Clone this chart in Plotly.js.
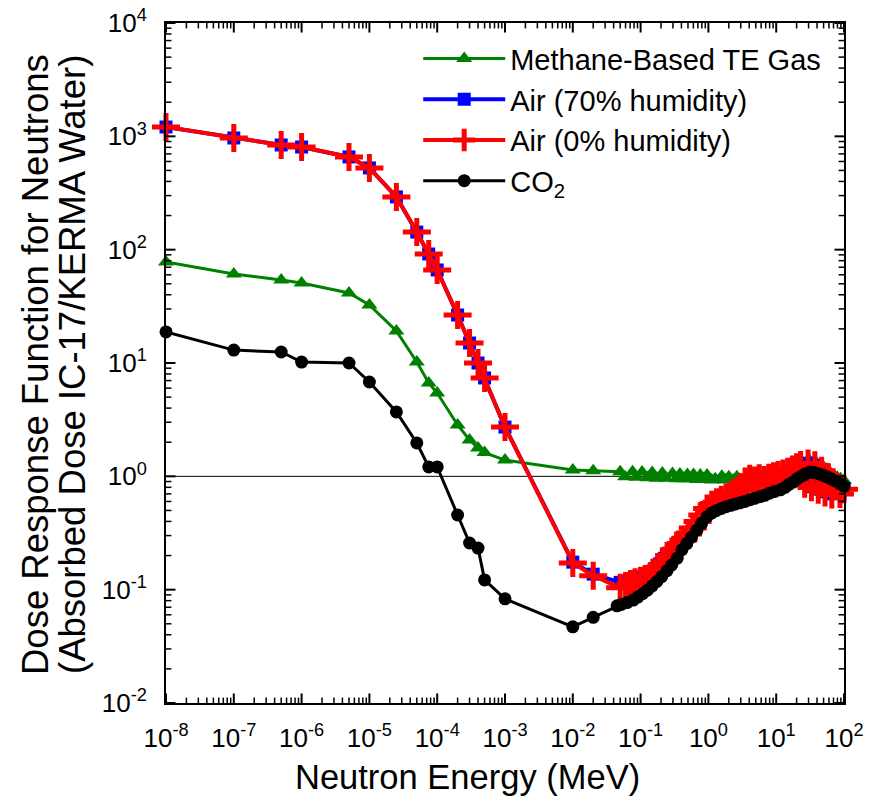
<!DOCTYPE html>
<html>
<head>
<meta charset="utf-8">
<script src="https://cdn.plot.ly/plotly-3.0.1.min.js"></script>
<style>html,body{margin:0;padding:0;background:#fff;}#chart{width:871px;height:808px;}</style>
</head>
<body>
<div id="chart"></div>
<script>
// ---- Data (neutron energy in MeV, dose response ratio) ----
const energyMethane = [1e-8, 1e-7, 5e-7, 1e-6, 5e-6, 1e-5, 2.5e-5, 5e-5, 7.5e-5, 1e-4, 2e-4, 3e-4, 4e-4, 5e-4, 1e-3, 1e-2, 2e-2,
  0.05, 0.059, 0.076, 0.087, 0.105, 0.126, 0.148, 0.174, 0.209, 0.24, 0.295, 0.339, 0.38, 0.437, 0.49, 0.537, 0.603, 0.676, 0.759, 0.851, 0.955,
  1.12, 1.26, 1.58, 1.78, 2.0, 2.34, 2.63, 3.0, 3.72, 4.2, 4.57, 5.0, 5.62, 6.3, 7.08, 8.0, 8.9, 10, 11.2, 12.6, 14.1, 15.8, 17.8, 20, 22.4, 25.1,
  28.2, 31.6, 35.5, 39.8, 44.7, 50.1, 56.2, 63.1, 70.8, 79.4, 89.1, 100];
const doseMethane = [77.9, 61.0, 54.0, 50.8, 41.5, 32.5, 19.2, 10.2, 6.66, 5.43, 2.84, 2.09, 1.78, 1.62, 1.39, 1.14, 1.12,
  1.10, 0.99, 1.10, 0.98, 1.09, 0.97, 1.08, 0.96, 1.07, 0.96, 1.06, 0.95, 1.05, 0.95, 1.04, 0.95, 1.04, 0.94, 1.03, 0.94, 1.03,
  0.93, 0.95, 1.00, 0.93, 0.99, 0.93, 0.99, 0.94, 1.01, 0.95, 1.02, 0.97, 1.03, 0.98, 1.05, 1.00, 1.06, 1.04, 1.08, 1.07, 1.10, 1.12, 1.17, 1.22, 1.28, 1.32,
  1.35, 1.36, 1.34, 1.30, 1.25, 1.20, 1.13, 1.07, 1.02, 0.98, 0.95, 0.92];

const energyAir70 = [1e-8, 1e-7, 5e-7, 1e-6, 5e-6, 1e-5, 2.5e-5, 5e-5, 7.5e-5, 1e-4, 2e-4, 3e-4, 4e-4, 5e-4, 1e-3, 1e-2, 2e-2,
  0.05, 0.06, 0.071, 0.083, 0.1, 0.117, 0.138, 0.162, 0.191, 0.224, 0.263, 0.309, 0.363, 0.427, 0.501, 0.589, 0.692, 0.813, 0.955,
  1.12, 1.32, 1.55, 1.82, 2.14, 2.51, 2.95, 3.47, 4.07, 4.79, 5.62, 6.61, 7.76, 9.12, 10.7, 12.6, 14.8, 17.4, 20, 22.9, 26.3, 29.5,
  33.1, 37.2, 41.7, 46.8, 52.5, 58.9, 66.1, 75.9, 87.1, 100];
const doseAir70 = [1208, 967, 839, 805, 658, 526, 292, 143, 91.6, 66.2, 26.5, 15.0, 10.0, 7.38, 2.72, 0.175, 0.137,
  0.116, 0.119, 0.122, 0.125, 0.129, 0.134, 0.141, 0.153, 0.169, 0.189, 0.21, 0.235, 0.26, 0.285, 0.32, 0.36, 0.41, 0.46, 0.52,
  0.56, 0.59, 0.62, 0.65, 0.68, 0.72, 0.80, 0.90, 0.95, 0.92, 0.96, 0.93, 0.97, 1.00, 1.03, 1.06, 1.10, 1.15, 1.20, 1.26, 0.87, 1.30,
  0.81, 1.25, 0.77, 1.12, 0.73, 0.98, 0.70, 0.83, 0.71, 0.78];

const energyAir0 = [1e-8, 1e-7, 5e-7, 1e-6, 5e-6, 1e-5, 2.5e-5, 5e-5, 7.5e-5, 1e-4, 2e-4, 3e-4, 4e-4, 5e-4, 1e-3, 1e-2, 2e-2,
  0.05, 0.06, 0.071, 0.083, 0.1, 0.117, 0.138, 0.162, 0.191, 0.224, 0.263, 0.309, 0.363, 0.427, 0.501, 0.589, 0.692, 0.813, 0.955,
  1.12, 1.32, 1.55, 1.82, 2.14, 2.51, 2.95, 3.47, 4.07, 4.79, 5.62, 6.61, 7.76, 9.12, 10.7, 12.6, 14.8, 17.4, 20, 22.9, 26.3, 29.5,
  33.1, 37.2, 41.7, 46.8, 52.5, 58.9, 66.1, 75.9, 87.1, 100];
const doseAir0 = [1208, 967, 839, 805, 658, 526, 292, 143, 91.6, 66.2, 26.5, 15.0, 10.0, 7.38, 2.72, 0.172, 0.133,
  0.104, 0.108, 0.112, 0.116, 0.12, 0.124, 0.13, 0.142, 0.158, 0.178, 0.2, 0.225, 0.25, 0.275, 0.31, 0.35, 0.40, 0.455, 0.52,
  0.56, 0.59, 0.62, 0.65, 0.68, 0.72, 0.80, 0.90, 0.95, 0.92, 0.96, 0.93, 0.97, 1.00, 1.03, 1.06, 1.10, 1.15, 1.20, 1.26, 0.86, 1.30,
  0.80, 1.25, 0.76, 1.12, 0.72, 0.98, 0.69, 0.82, 0.70, 0.77];

const energyCO2 = [1e-8, 1e-7, 5e-7, 1e-6, 5e-6, 1e-5, 2.5e-5, 5e-5, 7.5e-5, 1e-4, 2e-4, 3e-4, 4e-4, 5e-4, 1e-3, 1e-2, 2e-2,
  0.045, 0.052, 0.063, 0.078, 0.091, 0.107, 0.126, 0.148, 0.174, 0.204, 0.245, 0.288, 0.347, 0.407, 0.479, 0.562, 0.676, 0.794, 0.955,
  1.12, 1.32, 1.55, 1.82, 2.14, 2.51, 2.95, 3.47, 4.07, 4.79, 5.75, 6.76, 7.94, 9.55, 11.5, 13.5, 15.5, 17.8, 20.4, 24.0, 27.5,
  31.6, 36.3, 42.7, 49.0, 56.2, 64.6, 74.1, 87.1, 100];
const doseCO2 = [18.8, 13.0, 12.5, 10.2, 10.0, 6.8, 3.7, 1.97, 1.21, 1.21, 0.456, 0.258, 0.233, 0.122, 0.083, 0.047, 0.057,
  0.072, 0.074, 0.077, 0.081, 0.086, 0.092, 0.099, 0.108, 0.118, 0.13, 0.147, 0.165, 0.19, 0.225, 0.255, 0.29, 0.335, 0.385, 0.44,
  0.475, 0.50, 0.52, 0.54, 0.555, 0.57, 0.585, 0.60, 0.62, 0.64, 0.66, 0.68, 0.71, 0.735, 0.76, 0.80, 0.85, 0.89, 0.95, 1.01, 1.06,
  1.09, 1.08, 1.05, 1.02, 0.99, 0.95, 0.91, 0.86, 0.82];

const xTickVals = [1e-8, 1e-7, 1e-6, 1e-5, 1e-4, 1e-3, 1e-2, 1e-1, 1e0, 1e1, 1e2];
const xTickText = ['10<sup>-8</sup>', '10<sup>-7</sup>', '10<sup>-6</sup>', '10<sup>-5</sup>', '10<sup>-4</sup>', '10<sup>-3</sup>',
  '10<sup>-2</sup>', '10<sup>-1</sup>', '10<sup>0</sup>', '10<sup>1</sup>', '10<sup>2</sup>'];
const yTickVals = [1e-2, 1e-1, 1e0, 1e1, 1e2, 1e3, 1e4];
const yTickText = ['10<sup>-2</sup>', '10<sup>-1</sup>', '10<sup>0</sup>', '10<sup>1</sup>', '10<sup>2</sup>', '10<sup>3</sup>', '10<sup>4</sup>'];

const seriesNames = ['Methane-Based TE Gas', 'Air (70% humidity)', 'Air (0% humidity)', 'CO<sub>2</sub>'];

// minor tick positions (2..9 within each decade)
function minorTicks(decades) {
  const out = [];
  decades.slice(0, -1).forEach(d => { for (let k = 2; k <= 9; k++) out.push(k * d); });
  return out;
}

// inward tick marks on all four sides (lengths as fractions of the plot area)
function tickMarks() {
  const s = [];
  const major = 0.014, minor = 0.008;
  const xT = xTickVals.map(v => [v, major, 2]).concat(minorTicks(xTickVals).map(v => [v, minor, 1.5]));
  const yT = yTickVals.map(v => [v, major, 2]).concat(minorTicks(yTickVals).map(v => [v, minor, 1.5]));
  xT.forEach(([v, len, w]) => {
    s.push({ type: 'line', xref: 'x', yref: 'paper', x0: v, x1: v, y0: 0, y1: len, layer: 'above', line: { color: '#000', width: w } });
    s.push({ type: 'line', xref: 'x', yref: 'paper', x0: v, x1: v, y0: 1, y1: 1 - len, layer: 'above', line: { color: '#000', width: w } });
  });
  yT.forEach(([v, len, w]) => {
    s.push({ type: 'line', xref: 'paper', yref: 'y', y0: v, y1: v, x0: 0, x1: len, layer: 'above', line: { color: '#000', width: w } });
    s.push({ type: 'line', xref: 'paper', yref: 'y', y0: v, y1: v, x0: 1, x1: 1 - len, layer: 'above', line: { color: '#000', width: w } });
  });
  return s;
}

// ---- Traces ----
const FONT = '"Liberation Sans", Arial, sans-serif';
const traces = [
  { x: energyMethane, y: doseMethane, name: seriesNames[0], type: 'scatter', mode: 'lines+markers', cliponaxis: false,
    line: { color: '#008000', width: 3 }, marker: { symbol: 'triangle-up', size: 14, color: '#008000' } },
  { x: energyAir70, y: doseAir70, name: seriesNames[1], type: 'scatter', mode: 'lines+markers', cliponaxis: false,
    line: { color: '#0000FF', width: 4 }, marker: { symbol: 'square', size: 13, color: '#0000FF' } },
  { x: energyAir0, y: doseAir0, name: seriesNames[2], type: 'scatter', mode: 'lines+markers', cliponaxis: false,
    line: { color: '#FF0000', width: 4 }, marker: { symbol: 'cross-thin', size: 20, color: '#FF0000', line: { color: '#FF0000', width: 5 } } },
  { x: energyCO2, y: doseCO2, name: seriesNames[3], type: 'scatter', mode: 'lines+markers', cliponaxis: false,
    line: { color: '#000000', width: 3 }, marker: { symbol: 'circle', size: 13, color: '#000000' } }
];

const axisCommon = {
  type: 'log', showgrid: false, zeroline: false, showline: true, linecolor: '#000', linewidth: 2,
  mirror: true, ticks: '', tickfont: { family: FONT, size: 26, color: '#000' }, tickmode: 'array'
};

const layout = {
  width: 871, height: 808,
  margin: { l: 166, r: 27, t: 23, b: 105 },
  paper_bgcolor: '#fff', plot_bgcolor: '#fff',
  font: { family: FONT, color: '#000' },
  showlegend: true,
  legend: { x: 0.372, y: 0.985, xanchor: 'left', yanchor: 'top', bgcolor: 'rgba(0,0,0,0)',
    font: { family: FONT, size: 29, color: '#000' }, itemwidth: 82, tracegroupgap: 0 },
  xaxis: Object.assign({}, axisCommon, { range: [-8, 2], tickvals: xTickVals, ticktext: xTickText, ticklabelstandoff: 11 }),
  yaxis: Object.assign({}, axisCommon, { range: [-2, 4], tickvals: yTickVals, ticktext: yTickText, ticklabelstandoff: 12 }),
  shapes: [
    { type: 'line', xref: 'paper', yref: 'y', x0: 0, x1: 1, y0: 1, y1: 1, layer: 'below', line: { color: '#000', width: 1 } }
  ].concat(tickMarks()),
  annotations: [
    { text: 'Neutron Energy (MeV)', xref: 'paper', yref: 'paper', x: 0.445, y: 0, yshift: -74, xanchor: 'center', yanchor: 'middle',
      showarrow: false, font: { family: FONT, size: 34.5, color: '#000' } },
    { text: 'Dose Response Function for Neutrons', xref: 'paper', yref: 'paper', x: 0, xshift: -131, y: 0.5, yshift: -2, xanchor: 'center', yanchor: 'middle',
      textangle: -90, showarrow: false, font: { family: FONT, size: 36.5, color: '#000' } },
    { text: '(Absorbed Dose IC-17/KERMA Water)', xref: 'paper', yref: 'paper', x: 0, xshift: -94, y: 0.5, yshift: -2, xanchor: 'center', yanchor: 'middle',
      textangle: -90, showarrow: false, font: { family: FONT, size: 36.5, color: '#000' } }
  ]
};

Plotly.newPlot('chart', traces, layout, { displayModeBar: false, staticPlot: true });
</script>
</body>
</html>
